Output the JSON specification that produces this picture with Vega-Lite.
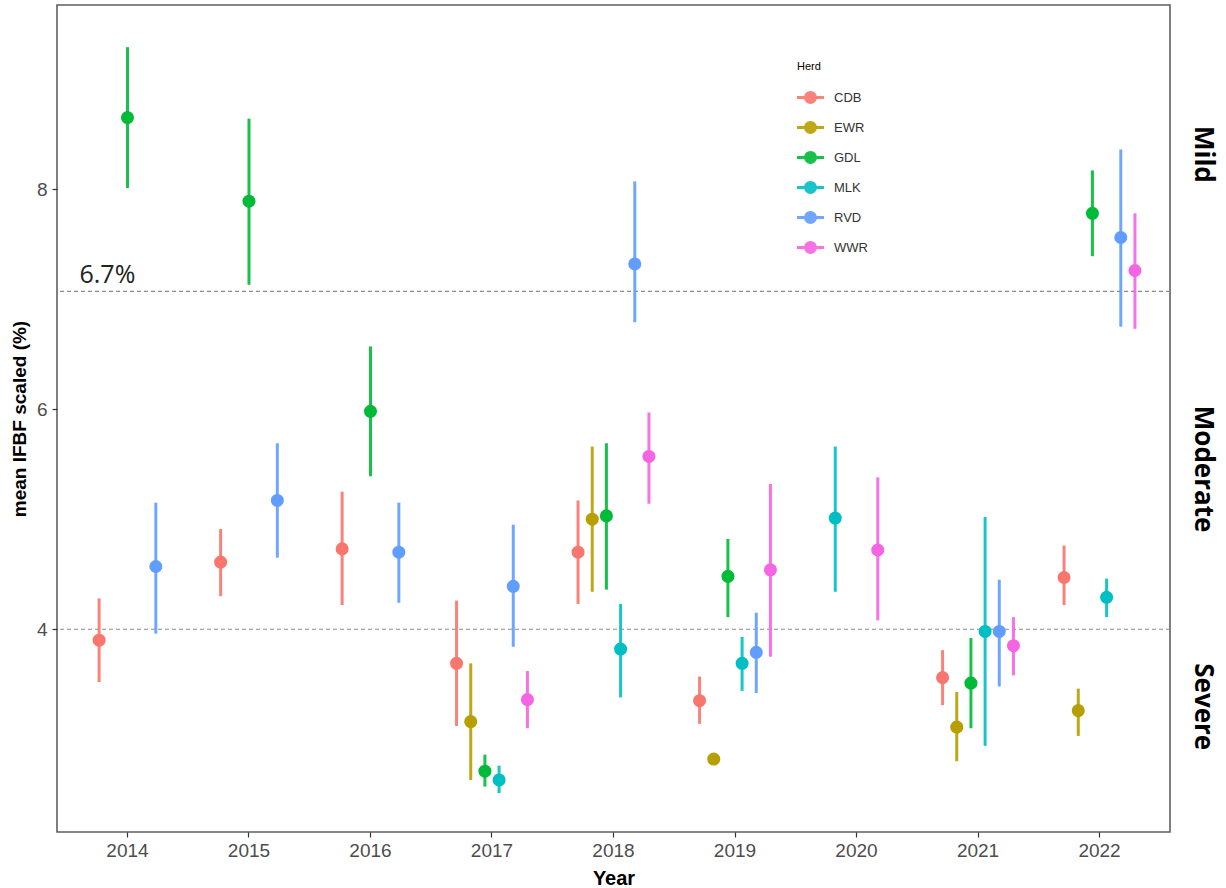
{
  "$schema": "https://vega.github.io/schema/vega-lite/v6.json",
  "width": 1113,
  "height": 827,
  "autosize": "none",
  "padding": {"left": 57, "top": 5, "right": 56, "bottom": 56},
  "background": "white",
  "config": {
    "view": {"stroke": "#5f5f5f", "strokeWidth": 1.6},
    "axis": {"labelFont": "Liberation Sans", "titleFont": "Liberation Sans", "grid": false},
    "legend": {"labelFont": "Liberation Sans", "titleFont": "Liberation Sans"}
  },
  "datasets": {
    "herds": [
      {"Year": 2014, "Herd": "CDB", "mean": 3.90, "lo": 3.52, "hi": 4.28},
      {"Year": 2014, "Herd": "GDL", "mean": 8.65, "lo": 8.01, "hi": 9.29},
      {"Year": 2014, "Herd": "RVD", "mean": 4.57, "lo": 3.96, "hi": 5.15},
      {"Year": 2015, "Herd": "CDB", "mean": 4.61, "lo": 4.30, "hi": 4.91},
      {"Year": 2015, "Herd": "GDL", "mean": 7.89, "lo": 7.13, "hi": 8.64},
      {"Year": 2015, "Herd": "RVD", "mean": 5.17, "lo": 4.65, "hi": 5.69},
      {"Year": 2016, "Herd": "CDB", "mean": 4.73, "lo": 4.22, "hi": 5.25},
      {"Year": 2016, "Herd": "GDL", "mean": 5.98, "lo": 5.39, "hi": 6.57},
      {"Year": 2016, "Herd": "RVD", "mean": 4.70, "lo": 4.24, "hi": 5.15},
      {"Year": 2017, "Herd": "CDB", "mean": 3.69, "lo": 3.12, "hi": 4.26},
      {"Year": 2017, "Herd": "EWR", "mean": 3.16, "lo": 2.63, "hi": 3.69},
      {"Year": 2017, "Herd": "GDL", "mean": 2.71, "lo": 2.57, "hi": 2.86},
      {"Year": 2017, "Herd": "MLK", "mean": 2.63, "lo": 2.51, "hi": 2.76},
      {"Year": 2017, "Herd": "RVD", "mean": 4.39, "lo": 3.84, "hi": 4.95},
      {"Year": 2017, "Herd": "WWR", "mean": 3.36, "lo": 3.10, "hi": 3.62},
      {"Year": 2018, "Herd": "CDB", "mean": 4.70, "lo": 4.23, "hi": 5.17},
      {"Year": 2018, "Herd": "EWR", "mean": 5.00, "lo": 4.34, "hi": 5.66},
      {"Year": 2018, "Herd": "GDL", "mean": 5.03, "lo": 4.36, "hi": 5.69},
      {"Year": 2018, "Herd": "MLK", "mean": 3.82, "lo": 3.38, "hi": 4.23},
      {"Year": 2018, "Herd": "RVD", "mean": 7.32, "lo": 6.79, "hi": 8.07},
      {"Year": 2018, "Herd": "WWR", "mean": 5.57, "lo": 5.14, "hi": 5.97},
      {"Year": 2019, "Herd": "CDB", "mean": 3.35, "lo": 3.14, "hi": 3.57},
      {"Year": 2019, "Herd": "EWR", "mean": 2.82, "lo": 2.80, "hi": 2.84},
      {"Year": 2019, "Herd": "GDL", "mean": 4.48, "lo": 4.11, "hi": 4.82},
      {"Year": 2019, "Herd": "MLK", "mean": 3.69, "lo": 3.44, "hi": 3.93},
      {"Year": 2019, "Herd": "RVD", "mean": 3.79, "lo": 3.42, "hi": 4.15},
      {"Year": 2019, "Herd": "WWR", "mean": 4.54, "lo": 3.75, "hi": 5.32},
      {"Year": 2020, "Herd": "MLK", "mean": 5.01, "lo": 4.34, "hi": 5.66},
      {"Year": 2020, "Herd": "WWR", "mean": 4.72, "lo": 4.08, "hi": 5.38},
      {"Year": 2021, "Herd": "CDB", "mean": 3.56, "lo": 3.31, "hi": 3.81},
      {"Year": 2021, "Herd": "EWR", "mean": 3.11, "lo": 2.80, "hi": 3.43},
      {"Year": 2021, "Herd": "GDL", "mean": 3.51, "lo": 3.10, "hi": 3.92},
      {"Year": 2021, "Herd": "MLK", "mean": 3.98, "lo": 2.94, "hi": 5.02},
      {"Year": 2021, "Herd": "RVD", "mean": 3.98, "lo": 3.48, "hi": 4.45},
      {"Year": 2021, "Herd": "WWR", "mean": 3.85, "lo": 3.58, "hi": 4.11},
      {"Year": 2022, "Herd": "CDB", "mean": 4.47, "lo": 4.22, "hi": 4.76},
      {"Year": 2022, "Herd": "EWR", "mean": 3.26, "lo": 3.03, "hi": 3.46},
      {"Year": 2022, "Herd": "GDL", "mean": 7.78, "lo": 7.39, "hi": 8.17},
      {"Year": 2022, "Herd": "MLK", "mean": 4.29, "lo": 4.11, "hi": 4.46},
      {"Year": 2022, "Herd": "RVD", "mean": 7.56, "lo": 6.75, "hi": 8.36},
      {"Year": 2022, "Herd": "WWR", "mean": 7.26, "lo": 6.73, "hi": 7.78}
    ],
    "thresholds": [{"v": 7.07}, {"v": 4.0}],
    "notes": [{"Year": 2014, "v": 7.07, "label": "6.7%"}]
  },
  "layer": [
    {
      "data": {"name": "thresholds"},
      "mark": {"type": "rule", "color": "#8c8c8c", "strokeWidth": 1.1, "strokeDash": [4, 3]},
      "encoding": {
        "y": {
          "field": "v", "type": "quantitative",
          "scale": {"domain": [2.157, 9.673], "nice": false, "zero": false},
          "axis": {
            "orient": "right", "title": null, "values": [8.32, 5.46, 3.30],
            "labelExpr": "datum.value > 7 ? 'Mild' : (datum.value > 5 ? 'Moderate' : 'Severe')",
            "labelAngle": 90, "labelAlign": "center", "labelBaseline": "bottom",
            "labelFont": "Open Sans", "labelFontWeight": "bold", "labelFontSize": 26,
            "labelColor": "#000000", "labelPadding": 19, "ticks": false, "domain": false
          }
        }
      }
    },
    {
      "data": {"name": "notes"},
      "mark": {"type": "text", "align": "left", "baseline": "bottom", "dx": -48, "dy": -3, "font": "Open Sans", "fontSize": 25, "color": "#222222"},
      "encoding": {
        "x": {"field": "Year", "type": "ordinal", "scale": {"type": "band", "domain": [2014, 2015, 2016, 2017, 2018, 2019, 2020, 2021, 2022], "paddingInner": 0.3, "paddingOuter": 0.23},
          "axis": {"title": "Year", "labelAngle": 0, "labelFontSize": 19, "labelColor": "#4d4d4d", "tickColor": "#333333", "tickSize": 5, "tickWidth": 1.2, "domain": false, "labelPadding": 4, "titleFontSize": 20, "titleFontWeight": "bold", "titleColor": "#000000", "titlePadding": 8}},
        "y": {"field": "v", "type": "quantitative", "scale": {"domain": [2.157, 9.673], "nice": false, "zero": false}, "axis": null},
        "text": {"field": "label"}
      }
    },
    {
      "data": {"name": "herds"},
      "transform": [{"filter": {"field": "Year", "oneOf": [2017, 2018, 2019, 2021, 2022]}}],
      "layer": [
        {
          "mark": {"type": "rule", "strokeWidth": 3, "opacity": 0.9},
          "encoding": {
            "x": {"field": "Year", "type": "ordinal", "scale": {"type": "band", "domain": [2014, 2015, 2016, 2017, 2018, 2019, 2020, 2021, 2022], "paddingInner": 0.3, "paddingOuter": 0.23},
              "axis": {"title": "Year", "labelAngle": 0, "labelFontSize": 19, "labelColor": "#4d4d4d", "tickColor": "#333333", "tickSize": 5, "tickWidth": 1.2, "domain": false, "labelPadding": 4, "titleFontSize": 20, "titleFontWeight": "bold", "titleColor": "#000000", "titlePadding": 8}},
            "xOffset": {"field": "Herd", "type": "nominal", "scale": {"domain": ["CDB", "EWR", "GDL", "MLK", "RVD", "WWR"], "paddingInner": 0, "paddingOuter": 0}},
            "y": {"field": "lo", "type": "quantitative", "scale": {"domain": [2.157, 9.673], "nice": false, "zero": false},
              "axis": {"orient": "left", "title": "mean IFBF scaled (%)", "values": [4, 6, 8], "labelFontSize": 19, "labelColor": "#4d4d4d", "tickColor": "#333333", "tickSize": 5, "tickWidth": 1.2, "domain": false, "labelPadding": 5, "titleFontSize": 19, "titleFontWeight": "bold", "titleColor": "#000000", "titlePadding": 7}},
            "y2": {"field": "hi"},
            "color": {"field": "Herd", "type": "nominal", "scale": {"domain": ["CDB", "EWR", "GDL", "MLK", "RVD", "WWR"], "range": ["#F8766D", "#B79F00", "#00BA38", "#00BFC4", "#619CFF", "#F564E3"]},
              "legend": {"orient": "none", "legendX": 740, "legendY": 56, "title": "Herd", "titleFontSize": 11, "titleFontWeight": "normal", "titleColor": "#000000", "titlePadding": 12, "labelFontSize": 13, "labelColor": "#333333", "labelOffset": 10, "symbolSize": 729, "symbolStrokeWidth": 0, "rowPadding": 9, "symbolType": "M-1,-0.11L1,-0.11L1,0.11L-1,0.11Z M0.48,0A0.48,0.48,0,1,1,-0.48,0A0.48,0.48,0,1,1,0.48,0Z"}}
          }
        },
        {
          "mark": {"type": "point", "filled": true, "size": 170, "opacity": 1, "shape": "circle"},
          "encoding": {
            "x": {"field": "Year", "type": "ordinal", "scale": {"type": "band", "domain": [2014, 2015, 2016, 2017, 2018, 2019, 2020, 2021, 2022], "paddingInner": 0.3, "paddingOuter": 0.23},
              "axis": {"title": "Year", "labelAngle": 0, "labelFontSize": 19, "labelColor": "#4d4d4d", "tickColor": "#333333", "tickSize": 5, "tickWidth": 1.2, "domain": false, "labelPadding": 4, "titleFontSize": 20, "titleFontWeight": "bold", "titleColor": "#000000", "titlePadding": 8}},
            "xOffset": {"field": "Herd", "type": "nominal", "scale": {"domain": ["CDB", "EWR", "GDL", "MLK", "RVD", "WWR"], "paddingInner": 0, "paddingOuter": 0}},
            "y": {"field": "mean", "type": "quantitative", "scale": {"domain": [2.157, 9.673], "nice": false, "zero": false},
              "axis": {"orient": "left", "title": "mean IFBF scaled (%)", "values": [4, 6, 8], "labelFontSize": 19, "labelColor": "#4d4d4d", "tickColor": "#333333", "tickSize": 5, "tickWidth": 1.2, "domain": false, "labelPadding": 5, "titleFontSize": 19, "titleFontWeight": "bold", "titleColor": "#000000", "titlePadding": 7}},
            "color": {"field": "Herd", "type": "nominal", "scale": {"domain": ["CDB", "EWR", "GDL", "MLK", "RVD", "WWR"], "range": ["#F8766D", "#B79F00", "#00BA38", "#00BFC4", "#619CFF", "#F564E3"]},
              "legend": {"orient": "none", "legendX": 740, "legendY": 56, "title": "Herd", "titleFontSize": 11, "titleFontWeight": "normal", "titleColor": "#000000", "titlePadding": 12, "labelFontSize": 13, "labelColor": "#333333", "labelOffset": 10, "symbolSize": 729, "symbolStrokeWidth": 0, "rowPadding": 9, "symbolType": "M-1,-0.11L1,-0.11L1,0.11L-1,0.11Z M0.48,0A0.48,0.48,0,1,1,-0.48,0A0.48,0.48,0,1,1,0.48,0Z"}}
          }
        }
      ]
    },
    {
      "data": {"name": "herds"},
      "transform": [{"filter": {"field": "Year", "oneOf": [2014, 2015, 2016]}}],
      "layer": [
        {
          "mark": {"type": "rule", "strokeWidth": 3, "opacity": 0.9},
          "encoding": {
            "x": {"field": "Year", "type": "ordinal", "scale": {"type": "band", "domain": [2014, 2015, 2016, 2017, 2018, 2019, 2020, 2021, 2022], "paddingInner": 0.3, "paddingOuter": 0.23},
              "axis": {"title": "Year", "labelAngle": 0, "labelFontSize": 19, "labelColor": "#4d4d4d", "tickColor": "#333333", "tickSize": 5, "tickWidth": 1.2, "domain": false, "labelPadding": 4, "titleFontSize": 20, "titleFontWeight": "bold", "titleColor": "#000000", "titlePadding": 8}},
            "xOffset": {"field": "Herd", "type": "nominal", "scale": {"domain": ["CDB", "GDL", "RVD"], "paddingInner": 0, "paddingOuter": 0}},
            "y": {"field": "lo", "type": "quantitative", "scale": {"domain": [2.157, 9.673], "nice": false, "zero": false}, "axis": null},
            "y2": {"field": "hi"},
            "color": {"field": "Herd", "type": "nominal", "scale": {"domain": ["CDB", "EWR", "GDL", "MLK", "RVD", "WWR"], "range": ["#F8766D", "#B79F00", "#00BA38", "#00BFC4", "#619CFF", "#F564E3"]},
              "legend": {"orient": "none", "legendX": 740, "legendY": 56, "title": "Herd", "titleFontSize": 11, "titleFontWeight": "normal", "titleColor": "#000000", "titlePadding": 12, "labelFontSize": 13, "labelColor": "#333333", "labelOffset": 10, "symbolSize": 729, "symbolStrokeWidth": 0, "rowPadding": 9, "symbolType": "M-1,-0.11L1,-0.11L1,0.11L-1,0.11Z M0.48,0A0.48,0.48,0,1,1,-0.48,0A0.48,0.48,0,1,1,0.48,0Z"}}
          }
        },
        {
          "mark": {"type": "point", "filled": true, "size": 170, "opacity": 1, "shape": "circle"},
          "encoding": {
            "x": {"field": "Year", "type": "ordinal", "scale": {"type": "band", "domain": [2014, 2015, 2016, 2017, 2018, 2019, 2020, 2021, 2022], "paddingInner": 0.3, "paddingOuter": 0.23},
              "axis": {"title": "Year", "labelAngle": 0, "labelFontSize": 19, "labelColor": "#4d4d4d", "tickColor": "#333333", "tickSize": 5, "tickWidth": 1.2, "domain": false, "labelPadding": 4, "titleFontSize": 20, "titleFontWeight": "bold", "titleColor": "#000000", "titlePadding": 8}},
            "xOffset": {"field": "Herd", "type": "nominal", "scale": {"domain": ["CDB", "GDL", "RVD"], "paddingInner": 0, "paddingOuter": 0}},
            "y": {"field": "mean", "type": "quantitative", "scale": {"domain": [2.157, 9.673], "nice": false, "zero": false}, "axis": null},
            "color": {"field": "Herd", "type": "nominal", "scale": {"domain": ["CDB", "EWR", "GDL", "MLK", "RVD", "WWR"], "range": ["#F8766D", "#B79F00", "#00BA38", "#00BFC4", "#619CFF", "#F564E3"]},
              "legend": {"orient": "none", "legendX": 740, "legendY": 56, "title": "Herd", "titleFontSize": 11, "titleFontWeight": "normal", "titleColor": "#000000", "titlePadding": 12, "labelFontSize": 13, "labelColor": "#333333", "labelOffset": 10, "symbolSize": 729, "symbolStrokeWidth": 0, "rowPadding": 9, "symbolType": "M-1,-0.11L1,-0.11L1,0.11L-1,0.11Z M0.48,0A0.48,0.48,0,1,1,-0.48,0A0.48,0.48,0,1,1,0.48,0Z"}}
          }
        }
      ]
    },
    {
      "data": {"name": "herds"},
      "transform": [{"filter": {"field": "Year", "oneOf": [2020]}}],
      "layer": [
        {
          "mark": {"type": "rule", "strokeWidth": 3, "opacity": 0.9},
          "encoding": {
            "x": {"field": "Year", "type": "ordinal", "scale": {"type": "band", "domain": [2014, 2015, 2016, 2017, 2018, 2019, 2020, 2021, 2022], "paddingInner": 0.3, "paddingOuter": 0.23},
              "axis": {"title": "Year", "labelAngle": 0, "labelFontSize": 19, "labelColor": "#4d4d4d", "tickColor": "#333333", "tickSize": 5, "tickWidth": 1.2, "domain": false, "labelPadding": 4, "titleFontSize": 20, "titleFontWeight": "bold", "titleColor": "#000000", "titlePadding": 8}},
            "xOffset": {"field": "Herd", "type": "nominal", "scale": {"domain": ["MLK", "WWR"], "paddingInner": 0, "paddingOuter": 0}},
            "y": {"field": "lo", "type": "quantitative", "scale": {"domain": [2.157, 9.673], "nice": false, "zero": false}, "axis": null},
            "y2": {"field": "hi"},
            "color": {"field": "Herd", "type": "nominal", "scale": {"domain": ["CDB", "EWR", "GDL", "MLK", "RVD", "WWR"], "range": ["#F8766D", "#B79F00", "#00BA38", "#00BFC4", "#619CFF", "#F564E3"]},
              "legend": {"orient": "none", "legendX": 740, "legendY": 56, "title": "Herd", "titleFontSize": 11, "titleFontWeight": "normal", "titleColor": "#000000", "titlePadding": 12, "labelFontSize": 13, "labelColor": "#333333", "labelOffset": 10, "symbolSize": 729, "symbolStrokeWidth": 0, "rowPadding": 9, "symbolType": "M-1,-0.11L1,-0.11L1,0.11L-1,0.11Z M0.48,0A0.48,0.48,0,1,1,-0.48,0A0.48,0.48,0,1,1,0.48,0Z"}}
          }
        },
        {
          "mark": {"type": "point", "filled": true, "size": 170, "opacity": 1, "shape": "circle"},
          "encoding": {
            "x": {"field": "Year", "type": "ordinal", "scale": {"type": "band", "domain": [2014, 2015, 2016, 2017, 2018, 2019, 2020, 2021, 2022], "paddingInner": 0.3, "paddingOuter": 0.23},
              "axis": {"title": "Year", "labelAngle": 0, "labelFontSize": 19, "labelColor": "#4d4d4d", "tickColor": "#333333", "tickSize": 5, "tickWidth": 1.2, "domain": false, "labelPadding": 4, "titleFontSize": 20, "titleFontWeight": "bold", "titleColor": "#000000", "titlePadding": 8}},
            "xOffset": {"field": "Herd", "type": "nominal", "scale": {"domain": ["MLK", "WWR"], "paddingInner": 0, "paddingOuter": 0}},
            "y": {"field": "mean", "type": "quantitative", "scale": {"domain": [2.157, 9.673], "nice": false, "zero": false}, "axis": null},
            "color": {"field": "Herd", "type": "nominal", "scale": {"domain": ["CDB", "EWR", "GDL", "MLK", "RVD", "WWR"], "range": ["#F8766D", "#B79F00", "#00BA38", "#00BFC4", "#619CFF", "#F564E3"]},
              "legend": {"orient": "none", "legendX": 740, "legendY": 56, "title": "Herd", "titleFontSize": 11, "titleFontWeight": "normal", "titleColor": "#000000", "titlePadding": 12, "labelFontSize": 13, "labelColor": "#333333", "labelOffset": 10, "symbolSize": 729, "symbolStrokeWidth": 0, "rowPadding": 9, "symbolType": "M-1,-0.11L1,-0.11L1,0.11L-1,0.11Z M0.48,0A0.48,0.48,0,1,1,-0.48,0A0.48,0.48,0,1,1,0.48,0Z"}}
          }
        }
      ]
    }
  ],
  "resolve": {"scale": {"xOffset": "independent"}, "axis": {"y": "independent"}}
}
